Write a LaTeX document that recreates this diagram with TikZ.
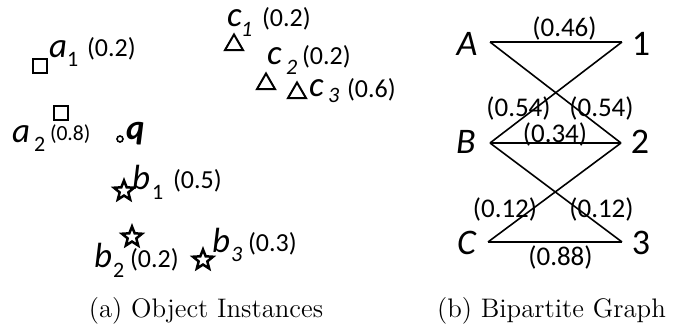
\documentclass[tikz,border=0pt]{standalone}
\usepackage{fontspec}
\newfontfamily\calib{Carlito}
\usetikzlibrary{shapes.geometric}
\begin{document}
\begin{tikzpicture}[x=0.5pt,y=-0.5pt,
  txt/.style={inner sep=0,outer sep=0,anchor=base west},
  letr/.style={txt,font=\calib\itshape\fontsize{17.5}{17.5}\selectfont},
  sbs/.style={txt,font=\calib\fontsize{11}{11}\selectfont},
  sbi/.style={txt,font=\calib\itshape\fontsize{11}{11}\selectfont},
  val/.style={txt,font=\calib\fontsize{13}{13}\selectfont},
  bigl/.style={inner sep=0,font=\calib\itshape\fontsize{18}{18}\selectfont},
  bign/.style={inner sep=0,font=\calib\fontsize{18}{18}\selectfont},
  elab/.style={inner sep=0,font=\calib\fontsize{13.5}{13.5}\selectfont},
  sq/.style={draw,line width=1pt,minimum size=7pt,inner sep=0},
  tri/.style={draw,regular polygon,regular polygon sides=3,line width=1pt,minimum size=10.5pt,inner sep=0},
  st/.style={draw,star,star points=5,star point ratio=2.3,line width=1.25pt,minimum size=10.5pt,inner sep=0},
  qdot/.style={draw,circle,line width=0.8pt,minimum size=3pt,inner sep=0},
  edge/.style={line width=0.8pt},
  captxt/.style={inner sep=0,font=\fontsize{13.4}{13.4}\selectfont}]
\useasboundingbox (0,0) rectangle (680,331);

% ---------- (a) object instances ----------
\node[sq] (sa1) at (40,66) {};
\node[letr] (la1) at (49,58) {a};
\node[sbs] (ia1) at (67,67) {1};
\node[val] (va1) at (87,57) {(0.2)};

\node[sq] (sa2) at (61,113) {};
\node[letr] (la2) at (12,143) {a};
\node[sbs] (ia2) at (34,152) {2};
\node[val,font=\calib\fontsize{10.8}{10.8}\selectfont] (va2) at (50,141) {(0.8)};

\node[qdot] (qd) at (120,139) {};
\node[txt,font=\calib\bfseries\itshape\fontsize{17.5}{17.5}\selectfont] (lq) at (126,140) {q};

\node[tri] (tc1) at (234,45) {};
\node[letr] (lc1) at (227,27) {c};
\node[sbi] (ic1) at (241,37) {1};
\node[val] (vc1) at (262,27) {(0.2)};

\node[tri] (tc2) at (266,84) {};
\node[letr] (lc2) at (267,65) {c};
\node[sbi] (ic2) at (286,75) {2};
\node[val] (vc2) at (302,65) {(0.2)};

\node[tri] (tc3) at (297,93) {};
\node[letr] (lc3) at (309,97) {c};
\node[sbi] (ic3) at (328,103) {3};
\node[val] (vc3) at (347,98) {(0.6)};

\node[st] (sb1) at (124,191) {};
\node[letr] (lb1) at (132,190) {b};
\node[sbs] (ib1) at (152,200) {1};
\node[val] (vb1) at (173,189) {(0.5)};

\node[st] (sb2) at (132,237) {};
\node[letr] (lb2) at (94,268) {b};
\node[sbs] (ib2) at (113,278) {2};
\node[val] (vb2) at (130,268) {(0.2)};

\node[st] (sb3) at (203,260) {};
\node[letr] (lb3) at (212,253) {b};
\node[sbi] (ib3) at (231,262) {3};
\node[val] (vb3) at (248,252) {(0.3)};

\node[captxt] (capa) at (206,311) {(a) Object Instances};

% ---------- (b) bipartite graph ----------
\node[bigl] (A) at (467,43.5) {A};
\node[bigl] (B) at (466,141.5) {B};
\node[bigl] (C) at (466.5,242.5) {C};
\node[bign] (n1) at (641,43.5) {1};
\node[bign] (n2) at (640,141.5) {2};
\node[bign] (n3) at (641,242.5) {3};

\coordinate (pA) at (490,42);
\coordinate (pB) at (490,143);
\coordinate (pC) at (488,242);
\coordinate (p1) at (622,42);
\coordinate (p2) at (621,143);
\coordinate (p3) at (622,242);

\draw[edge] (pA) -- (p1);
\draw[edge] (pA) -- (p2);
\draw[edge] (pB) -- (p1);
\draw[edge] (pB) -- (p2);
\draw[edge] (pB) -- (p3);
\draw[edge] (pC) -- (p2);
\draw[edge] (pC) -- (p3);

\node[elab] (e46) at (564.5,29) {(0.46)};
\node[elab] (e54a) at (518.5,109) {(0.54)};
\node[elab] (e54b) at (601.5,109) {(0.54)};
\node[elab] (e34) at (555,134) {(0.34)};
\node[elab] (e12a) at (505,209) {(0.12)};
\node[elab] (e12b) at (601.5,209) {(0.12)};
\node[elab] (e88) at (560.5,257.5) {(0.88)};

\node[captxt] (capb) at (551.5,311) {(b) Bipartite Graph};
\end{tikzpicture}
\end{document}
